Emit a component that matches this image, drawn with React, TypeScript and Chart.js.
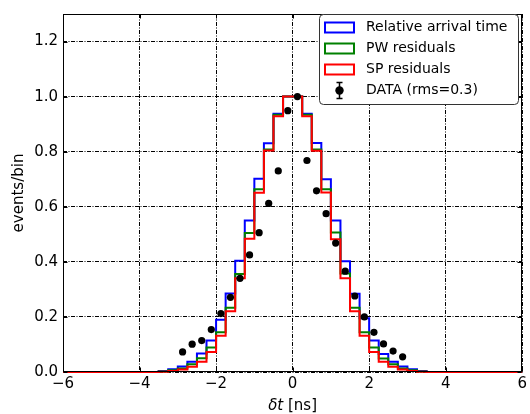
import React, { useEffect, useRef } from "react";
import { Chart, registerables } from "chart.js";

Chart.register(...registerables);

// ---- data ----
const histStart = -3.5; // left edge of first non-empty bin (ns)
const binWidth = 0.25; // ns
const relativeArrival = [
  0.004, 0.010, 0.020, 0.037, 0.067, 0.114, 0.190, 0.285, 0.404, 0.550, 0.702, 0.831, 0.938, 1.0,
  1.0, 0.938, 0.832, 0.700, 0.550, 0.402, 0.284, 0.195, 0.114, 0.065, 0.037, 0.020, 0.010, 0.004,
];
const pwResiduals = [
  0.002, 0.006, 0.013, 0.028, 0.050, 0.089, 0.144, 0.233, 0.356, 0.505, 0.664, 0.808, 0.934, 1.0,
  1.0, 0.934, 0.808, 0.664, 0.507, 0.358, 0.233, 0.144, 0.089, 0.049, 0.028, 0.013, 0.006, 0.002,
];
const spResiduals = [
  0.001, 0.004, 0.009, 0.019, 0.037, 0.073, 0.132, 0.221, 0.340, 0.484, 0.651, 0.804, 0.929, 1.0,
  1.0, 0.929, 0.803, 0.652, 0.482, 0.340, 0.221, 0.132, 0.073, 0.037, 0.019, 0.009, 0.004, 0.001,
];
const dataX = [
  -2.875, -2.625, -2.375, -2.125, -1.875, -1.625, -1.375, -1.125, -0.875, -0.625, -0.375, -0.125,
  0.125, 0.375, 0.625, 0.875, 1.125, 1.375, 1.625, 1.875, 2.125, 2.375, 2.625, 2.875,
];
const dataY = [
  0.073, 0.101, 0.114, 0.154, 0.212, 0.271, 0.340, 0.425, 0.506, 0.612, 0.730, 0.949,
  1.0, 0.768, 0.658, 0.575, 0.468, 0.366, 0.276, 0.200, 0.144, 0.102, 0.076, 0.055,
];
const xTicks = [-6, -4, -2, 0, 2, 4, 6];
const yTicks = [0.0, 0.2, 0.4, 0.6, 0.8, 1.0, 1.2];
const xRange = [-6, 6];
const yRange = [0, 1.3];
const legendLabels = ["Relative arrival time", "PW residuals", "SP residuals", "DATA (rms=0.3)"];
const xTitleItalic = "\u03b4t";
const xTitleRest = " [ns]";
const yTitle = "events/bin";

const FONT = "DejaVu Sans";

function histPoints(values: number[]) {
  const pts: { x: number; y: number }[] = [{ x: xRange[0], y: 0 }];
  values.forEach((v, i) => pts.push({ x: histStart + i * binWidth, y: v }));
  pts.push({ x: histStart + values.length * binWidth, y: 0 });
  pts.push({ x: xRange[1], y: 0 });
  return pts;
}

const fmtX = (v: number) => (v < 0 ? "\u2212" + Math.abs(v) : String(v));

const decorPlugin = {
  id: "decor",
  afterDatasetsDraw(chart: any) {
    const { ctx, chartArea: a, scales } = chart;
    const L = Math.round(a.left) + 0.5;
    const R = Math.round(a.right) - 0.5;
    const T = Math.round(a.top) + 0.5;
    const B = Math.round(a.bottom) - 0.5;
    ctx.save();
    ctx.strokeStyle = "#000";
    ctx.lineWidth = 1;
    ctx.setLineDash([]);
    ctx.strokeRect(L, T, R - L, B - T);
    // inward ticks
    ctx.beginPath();
    xTicks.forEach((v) => {
      const px = Math.round(scales.x.getPixelForValue(v)) + 0.5;
      ctx.moveTo(px, B);
      ctx.lineTo(px, B - 4);
      ctx.moveTo(px, T);
      ctx.lineTo(px, T + 4);
    });
    yTicks.forEach((v) => {
      const py = Math.round(scales.y.getPixelForValue(v)) + 0.5;
      ctx.moveTo(L, py);
      ctx.lineTo(L + 4, py);
      ctx.moveTo(R, py);
      ctx.lineTo(R - 4, py);
    });
    ctx.stroke();
    ctx.restore();
  },
  afterDraw(chart: any) {
    const { ctx, chartArea: a } = chart;
    ctx.save();
    // x title with italic delta t
    ctx.fillStyle = "#000";
    ctx.textBaseline = "alphabetic";
    ctx.font = `oblique 15px "${FONT}"`;
    const w1 = ctx.measureText(xTitleItalic).width;
    ctx.font = `15px "${FONT}"`;
    const w2 = ctx.measureText(xTitleRest).width;
    const cx = (a.left + a.right) / 2;
    let x0 = cx - (w1 + w2) / 2;
    ctx.font = `oblique 15px "${FONT}"`;
    ctx.fillText(xTitleItalic, x0, 410);
    ctx.font = `15px "${FONT}"`;
    ctx.fillText(xTitleRest, x0 + w1, 410);

    // legend
    const lx = 319.5, ly = 14.5, lw = 199, lh = 90, r = 4;
    ctx.beginPath();
    ctx.moveTo(lx + r, ly);
    ctx.lineTo(lx + lw - r, ly);
    ctx.arcTo(lx + lw, ly, lx + lw, ly + r, r);
    ctx.lineTo(lx + lw, ly + lh - r);
    ctx.arcTo(lx + lw, ly + lh, lx + lw - r, ly + lh, r);
    ctx.lineTo(lx + r, ly + lh);
    ctx.arcTo(lx, ly + lh, lx, ly + lh - r, r);
    ctx.lineTo(lx, ly + r);
    ctx.arcTo(lx, ly, lx + r, ly, r);
    ctx.closePath();
    ctx.fillStyle = "#fff";
    ctx.fill();
    ctx.strokeStyle = "#333";
    ctx.lineWidth = 1;
    ctx.stroke();

    const rows = [27.5, 48.5, 69.5, 90.5];
    const colors = ["#0000ff", "#008000", "#ff0000"];
    ctx.lineWidth = 2;
    colors.forEach((c, i) => {
      ctx.strokeStyle = c;
      ctx.strokeRect(325, rows[i] - 5, 29, 10);
    });
    // data marker with error bar
    const mx = 339.5, my = rows[3];
    ctx.strokeStyle = "#000";
    ctx.lineWidth = 1.5;
    ctx.beginPath();
    ctx.moveTo(mx, my - 8);
    ctx.lineTo(mx, my + 8);
    ctx.moveTo(mx - 3, my - 8);
    ctx.lineTo(mx + 3, my - 8);
    ctx.moveTo(mx - 3, my + 8);
    ctx.lineTo(mx + 3, my + 8);
    ctx.stroke();
    ctx.beginPath();
    ctx.arc(mx, my, 4.2, 0, Math.PI * 2);
    ctx.fillStyle = "#000";
    ctx.fill();

    ctx.fillStyle = "#000";
    ctx.font = `14px "${FONT}"`;
    ctx.textBaseline = "middle";
    legendLabels.forEach((t, i) => ctx.fillText(t, 366, rows[i]));
    ctx.restore();
  },
};

export default function App() {
  const ref = useRef<HTMLCanvasElement | null>(null);
  useEffect(() => {
    if (!ref.current) return;
    Chart.defaults.font.family = FONT;
    const lineDs = (label: string, values: number[], color: string, order: number) => ({
      type: "line" as const,
      label,
      data: histPoints(values),
      borderColor: color,
      backgroundColor: color,
      borderWidth: 2,
      pointRadius: 0,
      stepped: "before" as const,
      fill: false,
      clip: false as any,
      order,
    });
    const chart = new Chart(ref.current, {
      type: "line",
      data: {
        datasets: [
          lineDs(legendLabels[0], relativeArrival, "#0000ff", 4),
          lineDs(legendLabels[1], pwResiduals, "#008000", 3),
          lineDs(legendLabels[2], spResiduals, "#ff0000", 2),
          {
            type: "scatter" as const,
            label: legendLabels[3],
            data: dataX.map((x, i) => ({ x, y: dataY[i] })),
            backgroundColor: "#000",
            borderColor: "#000",
            pointRadius: 3.6,
            pointBorderWidth: 0,
            showLine: false,
            order: 1,
          } as any,
        ],
      },
      options: {
        animation: false,
        responsive: false,
        devicePixelRatio: 1,
        layout: { padding: { left: 0, right: 5, top: 7, bottom: 0 } },
        plugins: { legend: { display: false }, tooltip: { enabled: false } },
        scales: {
          x: {
            type: "linear",
            min: xRange[0],
            max: xRange[1],
            afterBuildTicks: (s: any) => {
              s.ticks = xTicks.map((v) => ({ value: v }));
            },
            afterFit: (s: any) => {
              s.height = 42;
            },
            ticks: {
              callback: (v: any) => fmtX(Number(v)),
              color: "#000",
              font: { size: 15, family: FONT },
              padding: 3,
              maxRotation: 0,
              autoSkip: false,
            },
            grid: { color: "#000", lineWidth: 1, drawTicks: false },
            border: { display: false, dash: [4, 1.5, 1, 1.5] },
          },
          y: {
            type: "linear",
            min: yRange[0],
            max: yRange[1],
            afterBuildTicks: (s: any) => {
              s.ticks = yTicks.map((v) => ({ value: v }));
            },
            afterFit: (s: any) => {
              s.width = 63;
            },
            ticks: {
              callback: (v: any) => Number(v).toFixed(1),
              color: "#000",
              font: { size: 15, family: FONT },
              padding: 5,
              autoSkip: false,
            },
            title: {
              display: true,
              text: yTitle,
              color: "#000",
              font: { size: 15, family: FONT },
              padding: { top: 10, bottom: 0 },
            },
            grid: { color: "#000", lineWidth: 1, drawTicks: false },
            border: { display: false, dash: [4, 1.5, 1, 1.5] },
          },
        },
      } as any,
      plugins: [decorPlugin],
    });
    return () => chart.destroy();
  }, []);
  return (
    <div style={{ position: "fixed", left: 0, top: 0, width: 530, height: 414, background: "#fff" }}>
      <canvas ref={ref} width={530} height={414} style={{ display: "block", width: 530, height: 414 }} />
    </div>
  );
}
